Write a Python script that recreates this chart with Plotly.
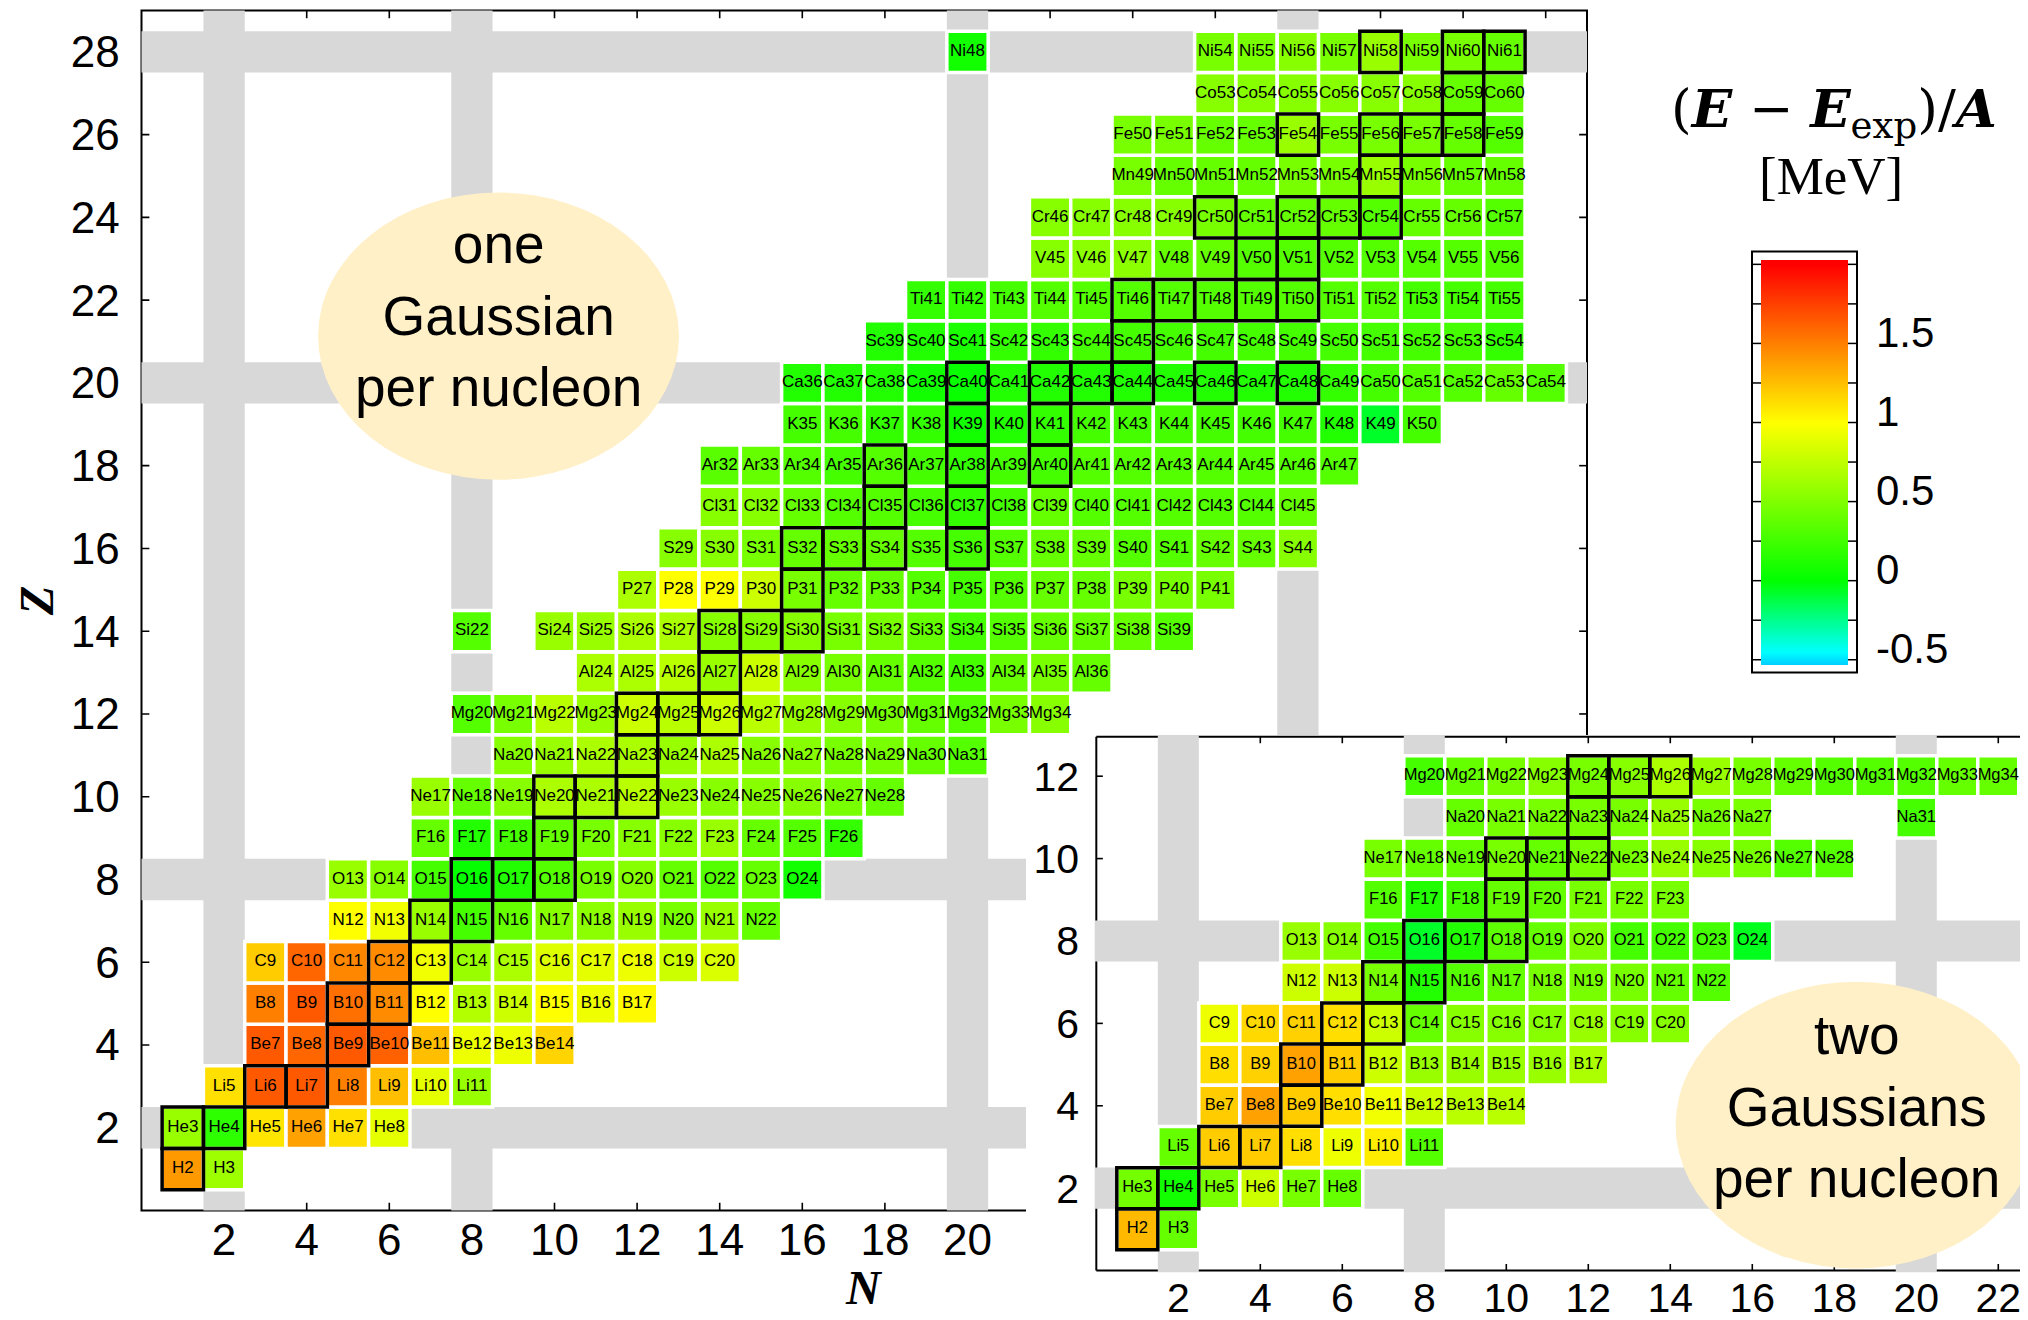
import plotly.graph_objects as go

# The page body has an 8px margin: the figure is sized so that it exactly fills the window.
OFF = 8
W, H = 2028 - OFF, 1320 - OFF

# ---------------- data ----------------
ELEMENTS = ["H", "He", "Li", "Be", "B", "C", "N", "O", "F", "Ne", "Na", "Mg", "Al", "Si",
            "P", "S", "Cl", "Ar", "K", "Ca", "Sc", "Ti", "V", "Cr", "Mn", "Fe", "Co", "Ni"]

# first neutron number N of each Z-row (one Gaussian per nucleon, main chart)
ONE_N0 = [1, 1, 2, 3, 3, 3, 5, 5, 7, 7, 9, 8, 11, 8, 12, 13, 14, 14, 16, 16, 18, 19, 22, 22, 24, 24, 26, 20]

# (E - E_exp)/A [MeV], one Gaussian per nucleon (None = not computed)
one_H = [1.40, 0.62]
one_He = [0.60, 0.18, 1.10, 1.37, 1.12, 0.90]
one_Li = [1.12, 1.65, 1.65, 1.50, 1.25, 0.90, 0.60]
one_Be = [1.65, 1.60, 1.65, 1.62, 1.25, 0.93, 0.93, 1.17]
one_B = [1.50, 1.65, 1.56, 1.45, 1.00, 0.70, 0.80, 1.00, 0.94, 1.02]
one_C = [1.20, 1.60, 1.47, 1.45, 0.95, 0.60, 0.67, 0.87, 0.90, 0.93, 0.80, 0.85]
one_N = [1.00, 0.95, 0.60, 0.27, 0.40, 0.53, 0.55, 0.60, 0.47, 0.60, 0.40]
one_O = [0.60, 0.53, 0.27, 0.02, 0.13, 0.33, 0.47, 0.53, 0.40, 0.33, 0.40, 0.07]
one_F = [0.40, 0.13, 0.27, 0.40, 0.47, 0.53, 0.53, 0.60, 0.40, 0.33, 0.20]
one_Ne = [0.60, 0.40, 0.53, 0.67, 0.67, 0.73, 0.60, 0.53, 0.53, 0.53, 0.47, 0.40]
one_Na = [0.53, 0.60, 0.67, 0.67, 0.60, 0.67, 0.53, 0.53, 0.47, 0.47, 0.40, 0.33]
one_Mg = [0.33, 0.47, 0.73, 0.60, 0.80, 0.73, 0.80, 0.73, 0.60, 0.53, 0.47, 0.40, 0.33, 0.47, 0.53]
one_Al = [0.67, 0.67, 0.73, 0.60, 0.80, 0.53, 0.47, 0.40, 0.33, 0.27, 0.40, 0.47, 0.40]
one_Si = [0.33, None, 0.60, 0.60, 0.67, 0.67, 0.53, 0.53, 0.53, 0.47, 0.47, 0.40, 0.27, 0.33,
          0.40, 0.40, 0.40, 0.33]
one_P = [0.67, 1.00, 1.00, 0.80, 0.47, 0.40, 0.40, 0.33, 0.27, 0.33, 0.40, 0.40, 0.47, 0.47, 0.47]
one_S = [0.53, 0.53, 0.47, 0.40, 0.40, 0.40, 0.33, 0.27, 0.33, 0.40, 0.40, 0.33, 0.33, 0.40, 0.40, 0.53]
one_Cl = [0.53, 0.53, 0.40, 0.33, 0.33, 0.27, 0.20, 0.27, 0.40, 0.33, 0.33, 0.33, 0.33, 0.33, 0.40]
one_Ar = [0.35, 0.40, 0.33, 0.27, 0.33, 0.27, 0.20, 0.27, 0.27, 0.33, 0.33, 0.33, 0.33, 0.33, 0.33, 0.33]
one_K = [0.27, 0.27, 0.20, 0.20, 0.07, 0.13, 0.20, 0.27, 0.27, 0.27, 0.27, 0.27, 0.27, 0.13, -0.07, 0.27]
one_Ca = [0.13, 0.13, 0.13, 0.07, 0.03, 0.13, 0.13, 0.13, 0.13, 0.13, 0.13, 0.13, 0.13, 0.20, 0.27,
          0.33, 0.33, 0.40, 0.33]
one_Sc = [0.13, 0.13, 0.10, 0.20, 0.20, 0.27, 0.27, 0.27, 0.27, 0.27, 0.27, 0.27, 0.27, 0.27, 0.27, 0.20]
one_Ti = [0.20, 0.20, 0.27, 0.33, 0.33, 0.33, 0.33, 0.33, 0.33, 0.33, 0.33, 0.33, 0.27, 0.27, 0.27]
one_V = [0.53, 0.55, 0.55, 0.40, 0.40, 0.33, 0.33, 0.33, 0.33, 0.33, 0.33, 0.33]
one_Cr = [0.53, 0.53, 0.53, 0.53, 0.47, 0.40, 0.40, 0.40, 0.33, 0.40, 0.40, 0.33]
one_Mn = [0.47, 0.40, 0.40, 0.40, 0.47, 0.47, 0.60, 0.47, 0.40, 0.40]
one_Fe = [0.47, 0.47, 0.40, 0.40, 0.60, 0.47, 0.47, 0.47, 0.40, 0.33]
one_Co = [0.53, 0.53, 0.53, 0.53, 0.53, 0.53, 0.40, 0.40]
one_Ni = [0.07, None, None, None, None, None, 0.47, 0.47, 0.53, 0.47, 0.60, 0.47, 0.47, 0.40]

ONE_ROWS = [one_H, one_He, one_Li, one_Be, one_B, one_C, one_N, one_O, one_F, one_Ne, one_Na,
            one_Mg, one_Al, one_Si, one_P, one_S, one_Cl, one_Ar, one_K, one_Ca, one_Sc, one_Ti,
            one_V, one_Cr, one_Mn, one_Fe, one_Co, one_Ni]

# two Gaussians per nucleon (inset)
TWO_N0 = [1, 1, 2, 3, 3, 3, 5, 5, 7, 7, 9, 8]
two_H = [1.27, 0.40]
two_He = [0.45, 0.07, 0.47, 0.80, 0.47, 0.40]
two_Li = [0.40, 1.20, 1.20, 1.13, 0.93, 1.07, 0.33]
two_Be = [1.20, 1.37, 1.20, 1.13, 0.95, 0.80, 0.73, 0.73]
two_B = [1.13, 1.18, 1.37, 1.20, 0.80, 0.60, 0.60, 0.60, 0.60, 0.67]
two_C = [0.93, 1.15, 1.18, 1.13, 0.80, 0.40, 0.53, 0.53, 0.53, 0.60, 0.53, 0.53]
two_N = [0.80, 0.80, 0.47, 0.13, 0.33, 0.40, 0.47, 0.47, 0.47, 0.40, 0.33]
two_O = [0.60, 0.53, 0.27, -0.07, 0.13, 0.37, 0.40, 0.50, 0.27, 0.27, 0.27, -0.05]
two_F = [0.33, 0.13, 0.27, 0.40, 0.40, 0.47, 0.47, 0.47]
two_Ne = [0.47, 0.40, 0.40, 0.47, 0.40, 0.47, 0.47, 0.60, 0.53, 0.47, 0.33, 0.33]
two_Na = [0.40, 0.47, 0.47, 0.47, 0.47, 0.60, 0.47, 0.47, None, None, None, 0.27]
two_Mg = [0.27, 0.40, 0.47, 0.53, 0.47, 0.53, 0.67, 0.60, 0.47, 0.40, 0.33, 0.33, 0.33, 0.40, 0.40]

TWO_ROWS = [two_H, two_He, two_Li, two_Be, two_B, two_C, two_N, two_O, two_F, two_Ne, two_Na, two_Mg]

# stable nuclei (thick black frame)
STABLE = ["H2", "He3", "He4", "Li6", "Li7", "Be9", "B10", "B11", "C12", "C13", "N14", "N15",
          "O16", "O17", "O18", "F19", "Ne20", "Ne21", "Ne22", "Na23", "Mg24", "Mg25", "Mg26",
          "Al27", "Si28", "Si29", "Si30", "P31", "S32", "S33", "S34", "S36", "Cl35", "Cl37",
          "Ar36", "Ar38", "Ar40", "K39", "K41", "Ca40", "Ca42", "Ca43", "Ca44", "Ca46", "Ca48",
          "Sc45", "Ti46", "Ti47", "Ti48", "Ti49", "Ti50", "V50", "V51", "Cr50", "Cr52", "Cr53",
          "Cr54", "Mn55", "Fe54", "Fe56", "Fe57", "Fe58", "Co59", "Ni58", "Ni60", "Ni61"]

MAGIC = [2, 8, 20, 28]
MAIN_XLABELS = list(range(2, 21, 2))
MAIN_YLABELS = list(range(2, 29, 2))
INS_XLABELS = list(range(2, 23, 2))
INS_YLABELS = list(range(2, 13, 2))
CB_TICKS = [-0.5, -0.25, 0, 0.25, 0.5, 0.75, 1, 1.25, 1.5, 1.75, 2]
CB_LABELS = [-0.5, 0, 0.5, 1, 1.5]
CB_LABEL_TEXT = ["-0.5", "0", "0.5", "1", "1.5"]
CB_LABEL_NUDGE = 0.07   # labels sit slightly above their ticks in the original
CMIN, CMAX = -0.53, 2.03

# ---------------- layout geometry (window pixels) ----------------
MAIN_L, MAIN_R, MAIN_T, MAIN_B = 141.5, 1587.0, 10.5, 1210.5
MAIN_XR, MAIN_YR = [0, 35], [0, 29]
INS_L, INS_T = 1026.0, 735.0
INS_XR, INS_YR = [-1.715, 22.725], [-1.2, 13.0]
INS_AX_X, INS_AX_Y = 1096.3, 1270.5
INS_TOP = 12.96

CB_X0, CB_X1, CB_Y0, CB_Y1 = 1761.0, 1848.0, 259.6, 664.5

SANS = "Liberation Sans"
SERIF = "Liberation Serif"


def px(xp):
    return (xp - OFF) / W


def py(yp):
    return 1 - (yp - OFF) / H


def build(rows, n0s):
    xs, ys, txt, vals, sx, sy = [], [], [], [], [], []
    for z, (sym, n0, row) in enumerate(zip(ELEMENTS, n0s, rows), start=1):
        for i, v in enumerate(row):
            if v is None:
                continue
            n = n0 + i
            lab = f"{sym}{z + n}"
            xs.append(n); ys.append(z); txt.append(lab); vals.append(v)
            if lab in STABLE:
                sx.append(n); sy.append(z)
    return xs, ys, txt, vals, sx, sy


def cell_traces(rows, n0s, xa, ya, size, fsize):
    xs, ys, txt, vals, sx, sy = build(rows, n0s)
    t1 = go.Scatter(x=xs, y=ys, mode="markers+text", text=txt, xaxis=xa, yaxis=ya,
                    textposition="middle center",
                    textfont=dict(family=SANS, size=fsize, color="black"),
                    marker=dict(symbol="square", size=size, color=vals, coloraxis="coloraxis",
                                line=dict(color="white", width=3.5)),
                    hoverinfo="skip", showlegend=False)
    t2 = go.Scatter(x=sx, y=sy, mode="markers", xaxis=xa, yaxis=ya,
                    marker=dict(symbol="square-open", size=size, color="black",
                                line=dict(color="black", width=3.5)),
                    hoverinfo="skip", showlegend=False)
    return [t1, t2]


fig = go.Figure()
for t in cell_traces(ONE_ROWS, ONE_N0, "x", "y", 41.35, 17):
    fig.add_trace(t)
for t in cell_traces(TWO_ROWS, TWO_N0, "x2", "y2", 41.0, 16.5):
    fig.add_trace(t)

GRAY = "#d8d8d8"
shapes = []


def line(xref, yref, x0, y0, x1, y1, w=1.6, layer="below"):
    shapes.append(dict(type="line", xref=xref, yref=yref, x0=x0, y0=y0, x1=x1, y1=y1,
                       line=dict(color="black", width=w), layer=layer))


def rect(xref, yref, x0, y0, x1, y1, fill):
    shapes.append(dict(type="rect", xref=xref, yref=yref, x0=x0, y0=y0, x1=x1, y1=y1,
                       fillcolor=fill, line=dict(width=0), layer="below"))


# main frame
shapes.append(dict(type="rect", xref="x domain", yref="y domain", x0=0, x1=1, y0=0, y1=1,
                   line=dict(color="black", width=2), layer="below"))
tl = 0.19
for n in range(4, 35, 2):
    if n in MAGIC:
        continue
    line("x", "y", n, 0, n, tl)
    line("x", "y", n, 29, n, 29 - tl)
for z in range(4, 29, 2):
    if z in MAGIC:
        continue
    line("x", "y", 0, z, tl, z)
    line("x", "y", 35, z, 35 - tl, z)
# main magic-number bands
for m in MAGIC:
    rect("x", "y", m - 0.5, -0.1, m + 0.5, 29.1, GRAY)
for m in MAGIC:
    rect("x", "y", -0.1, m - 0.5, 35.1, m + 0.5, GRAY)
# main ellipse
shapes.append(dict(type="circle", xref="x", yref="y", x0=8.644 - 4.37, x1=8.644 + 4.37,
                   y0=21.13 - 3.47, y1=21.13 + 3.47, fillcolor="#fff0c8",
                   line=dict(width=0), layer="below"))

# inset frame
line("x2", "y2", 0, 0, 0, INS_TOP, w=2)
line("x2", "y2", 0, 0, INS_XR[1], 0, w=2)
line("x2", "y2", 0, INS_TOP, INS_XR[1], INS_TOP, w=2)
tl2 = 0.16
for n in range(4, 23, 2):
    if n in MAGIC:
        continue
    line("x2", "y2", n, 0, n, tl2)
    line("x2", "y2", n, INS_TOP, n, INS_TOP - tl2)
for z in range(4, 13, 2):
    if z in MAGIC:
        continue
    line("x2", "y2", 0, z, tl2, z)
for m in [2, 8, 20]:
    rect("x2", "y2", m - 0.5, -0.04, m + 0.5, INS_TOP + 0.05, GRAY)
for m in [2, 8]:
    rect("x2", "y2", -0.04, m - 0.5, INS_XR[1] + 0.1, m + 0.5, GRAY)
shapes.append(dict(type="circle", xref="x2", yref="y2", x0=18.53 - 4.40, x1=18.53 + 4.40,
                   y0=3.53 - 3.48, y1=3.53 + 3.48, fillcolor="#fff0c8",
                   line=dict(width=0), layer="below"))

# colorbar frame and ticks
shapes.append(dict(type="rect", xref="paper", yref="paper", x0=px(CB_X0 - 9), x1=px(CB_X1 + 9),
                   y0=py(CB_Y1 + 8), y1=py(CB_Y0 - 8), line=dict(color="black", width=2),
                   layer="above"))
for v in CB_TICKS:
    yv = CB_Y1 - (v - CMIN) / (CMAX - CMIN) * (CB_Y1 - CB_Y0)
    line("paper", "paper", px(CB_X0 - 9), py(yv), px(CB_X0), py(yv), w=1.5, layer="above")
    line("paper", "paper", px(CB_X1), py(yv), px(CB_X1 + 9), py(yv), w=1.5, layer="above")


# ---------------- colors ----------------
def nrm(v):
    return (v - CMIN) / (CMAX - CMIN)


colorscale = [
    [0.0, "rgb(0,205,255)"],
    [nrm(-0.45), "rgb(0,255,255)"],
    [nrm(0.0), "rgb(0,255,0)"],
    [nrm(1.0), "rgb(255,255,0)"],
    [nrm(2.0), "rgb(255,0,0)"],
    [1.0, "rgb(255,0,0)"],
]

ann_common = dict(showarrow=False, xanchor="center", yanchor="middle")
annotations = [
    dict(text="one<br>Gaussian<br>per nucleon", x=8.644, y=21.62, xref="x", yref="y",
         font=dict(family=SANS, size=55, color="black"), align="center", **ann_common),
    dict(text="two<br>Gaussians<br>per nucleon", x=18.53, y=3.99, xref="x2", yref="y2",
         font=dict(family=SANS, size=55, color="black"), align="center", **ann_common),
    dict(text="<b><i>N</i></b>", x=px(864), y=py(1287), xref="paper", yref="paper",
         font=dict(family=SERIF, size=48, color="black"), **ann_common),
    dict(text="<b><i>Z</i></b>", x=px(37), y=py(601), xref="paper", yref="paper",
         textangle=-90, font=dict(family=SERIF, size=48, color="black"), **ann_common),
    dict(text="(<b><i>E</i></b>\u00a0\u2212\u00a0<b><i>E</i></b><sub>exp</sub>)/<b><i>A</i></b>",
         x=px(1834), y=py(112), xref="paper", yref="paper",
         font=dict(family="DejaVu Serif", size=53, color="black"), **ann_common),
    dict(text="[MeV]", x=px(1831), y=py(176), xref="paper", yref="paper",
         font=dict(family=SERIF, size=53, color="black"), **ann_common),
]

axis_common = dict(showgrid=False, zeroline=False, showline=False,
                   fixedrange=True, automargin=False)

fig.update_layout(
    width=W, height=H, margin=dict(l=0, r=0, t=0, b=0, pad=0, autoexpand=False),
    paper_bgcolor="white", plot_bgcolor="white", showlegend=False,
    xaxis=dict(domain=[px(MAIN_L), px(MAIN_R)], range=MAIN_XR, anchor="y",
               tickvals=MAIN_XLABELS, ticks="", ticklabelstandoff=-1,
               tickfont=dict(family=SANS, size=44, color="black"), **axis_common),
    yaxis=dict(domain=[py(MAIN_B), py(MAIN_T)], range=MAIN_YR, anchor="x",
               tickvals=MAIN_YLABELS, ticks="outside", ticklen=12,
               tickcolor="rgba(0,0,0,0)",
               tickfont=dict(family=SANS, size=44, color="black"), **axis_common),
    xaxis2=dict(domain=[px(INS_L), 1.0], range=INS_XR, anchor="free",
                position=py(INS_AX_Y), tickvals=INS_XLABELS, ticks="",
                ticklabelstandoff=-1,
                tickfont=dict(family=SANS, size=41, color="black"), **axis_common),
    yaxis2=dict(domain=[0.0, py(INS_T)], range=INS_YR, anchor="free",
                position=px(INS_AX_X), tickvals=INS_YLABELS, ticks="outside",
                ticklen=9, tickcolor="rgba(0,0,0,0)",
                tickfont=dict(family=SANS, size=41, color="black"), **axis_common),
    coloraxis=dict(
        cmin=CMIN, cmax=CMAX, colorscale=colorscale,
        colorbar=dict(x=px(CB_X0), xanchor="left", xpad=0, y=py((CB_Y0 + CB_Y1) / 2),
                      yanchor="middle", ypad=0, len=CB_Y1 - CB_Y0, lenmode="pixels",
                      thickness=CB_X1 - CB_X0, thicknessmode="pixels", outlinewidth=0,
                      tickvals=[v + CB_LABEL_NUDGE for v in CB_LABELS],
                      ticktext=CB_LABEL_TEXT, ticks="outside", ticklen=20,
                      tickcolor="rgba(0,0,0,0)",
                      tickfont=dict(family=SANS, size=42, color="black")),
    ),
    shapes=shapes,
    annotations=annotations,
)

fig.write_html("out.html")
